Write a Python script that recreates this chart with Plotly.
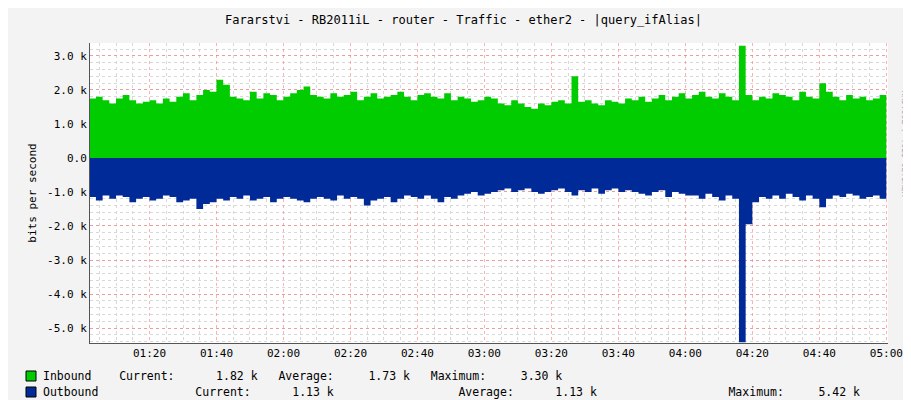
import pandas as pd
import plotly.graph_objects as go

# 2-minute samples from 01:00 to 05:00, values in k bits/s
inbound = [
    1.9, 1.75, 1.8, 1.7, 1.6, 1.75, 1.85, 1.7, 1.6, 1.65, 1.7,
    1.6, 1.75, 1.65, 1.8, 1.9, 1.7, 1.85, 2.0, 1.95, 2.3,
    2.15, 1.8, 1.75, 1.7, 1.95, 1.75, 1.9, 1.85, 1.7, 1.8,
    1.9, 2.0, 2.1, 1.85, 1.8, 1.75, 1.9, 1.8, 1.85, 1.95,
    1.7, 1.8, 1.9, 1.75, 1.8, 1.85, 1.95, 1.8, 1.7, 1.85,
    1.9, 1.8, 1.75, 1.9, 1.7, 1.8, 1.75, 1.65, 1.7, 1.8,
    1.75, 1.6, 1.55, 1.7, 1.6, 1.5, 1.45, 1.6, 1.55, 1.65,
    1.7, 1.6, 2.4, 1.65, 1.7, 1.6, 1.55, 1.7, 1.65, 1.6,
    1.75, 1.7, 1.8, 1.65, 1.75, 1.85, 1.7, 1.8, 1.9, 1.75,
    1.85, 1.95, 1.8, 1.75, 1.9, 1.8, 1.7, 3.3, 1.85, 1.7,
    1.8, 1.75, 1.9, 1.85, 1.8, 1.7, 1.95, 1.8, 1.75, 2.2,
    1.95, 1.8, 1.7, 1.85, 1.75, 1.8, 1.7, 1.75, 1.85, 1.82,
]
outbound = [
    -1.2, -1.15, -1.25, -1.1, -1.2, -1.1, -1.15, -1.3, -1.2, -1.15, -1.25,
    -1.2, -1.1, -1.15, -1.3, -1.25, -1.2, -1.5, -1.35, -1.3, -1.2,
    -1.25, -1.15, -1.2, -1.1, -1.25, -1.2, -1.15, -1.3, -1.2, -1.15,
    -1.2, -1.25, -1.3, -1.2, -1.15, -1.2, -1.25, -1.1, -1.2, -1.15,
    -1.2, -1.4, -1.25, -1.2, -1.15, -1.3, -1.2, -1.1, -1.15, -1.2,
    -1.1, -1.2, -1.3, -1.15, -1.2, -1.1, -1.05, -1.0, -1.1, -1.05,
    -1.0, -0.95, -0.9, -1.0, -0.95, -0.9, -1.0, -1.05, -1.0, -0.95,
    -0.9, -1.0, -1.1, -0.95, -1.0, -0.9, -1.05, -0.95, -0.9, -1.0,
    -0.95, -1.0, -1.05, -1.1, -1.0, -0.95, -1.15, -1.0, -1.05, -1.1,
    -1.1, -1.2, -1.05, -1.15, -1.25, -1.1, -1.2, -5.42, -1.95, -1.3,
    -1.15, -1.2, -1.1, -1.2, -1.05, -1.15, -1.25, -1.1, -1.2, -1.45,
    -1.2, -1.1, -1.15, -1.05, -1.1, -1.2, -1.15, -1.1, -1.2, -1.13,
]
times = pd.date_range("2024-01-01 01:00", periods=len(inbound), freq="2min")

ytick_vals = [3, 2, 1, 0, -1, -2, -3, -4, -5]
ytick_text = ["3.0 k", "2.0 k", "1.0 k", "0.0", "-1.0 k", "-2.0 k", "-3.0 k", "-4.0 k", "-5.0 k"]

FONT = "DejaVu Sans Mono"
GREEN = "#00cc00"
BLUE = "#002a97"

fig = go.Figure()
fig.add_trace(go.Scatter(x=times, y=inbound, fill="tozeroy", mode="lines",
                         line=dict(shape="hv", width=0, color=GREEN),
                         fillcolor=GREEN, name="Inbound"))
fig.add_trace(go.Scatter(x=times, y=outbound, fill="tozeroy", mode="lines",
                         line=dict(shape="hv", width=0, color=BLUE),
                         fillcolor=BLUE, name="Outbound"))

L, R, T, B, W, H = 82, 880, 35, 335, 911, 400


def px(x, y):
    return (x - L) / (R - L), (B - y) / (B - T)


fig.update_layout(
    width=W, height=H, showlegend=False,
    margin=dict(l=L, r=W - R, t=T, b=H - B, autoexpand=False),
    paper_bgcolor="#f3f3f3", plot_bgcolor="white",
    font=dict(family=FONT, size=11, color="#000"),
    title=dict(text="Fararstvi - RB2011iL - router - Traffic - ether2 - |query_ifAlias|",
               x=0.5, y=0.97, yanchor="middle", font=dict(size=12)),
)
fig.update_xaxes(
    range=["2024-01-01 01:02:14", "2024-01-01 05:00:30"], automargin=False,
    dtick=20 * 60 * 1000, tickformat="%H:%M", ticks="",
    showgrid=True, gridcolor="rgba(255,100,100,0.5)", griddash="dot", gridwidth=1,
    minor=dict(dtick=5 * 60 * 1000, showgrid=True, gridcolor="#d8d8d8", griddash="dot"),
    showline=True, linecolor="#555", zeroline=False, tickfont=dict(size=11),
)
fig.update_yaxes(
    range=[-5.44, 3.38], tickvals=ytick_vals, ticktext=ytick_text, ticks="", automargin=False,
    showgrid=True, gridcolor="rgba(255,100,100,0.5)", griddash="dot",
    minor=dict(dtick=0.2, showgrid=True, gridcolor="#d8d8d8", griddash="dot"),
    showline=True, linecolor="#555", zeroline=False,
    title=dict(text="bits per second", font=dict(size=11), standoff=8),
)

# legend rows
rows = [
    (368, GREEN, "Inbound    Current:      1.82 k   Average:     1.73 k   Maximum:     3.30 k"),
    (384, BLUE, "Outbound              Current:      1.13 k                  Average:      1.13 k                   Maximum:     5.42 k"),
]
for y, col, txt in rows:
    x0, y0 = px(18, y - 5)
    x1, y1 = px(28, y + 5)
    fig.add_shape(type="rect", xref="paper", yref="paper", x0=x0, x1=x1, y0=y1, y1=y0,
                  fillcolor=col, line=dict(color="#000", width=1))
    ax, ay = px(33, y)
    fig.add_annotation(text=txt, xref="paper", yref="paper", x=ax, y=ay,
                       xanchor="left", yanchor="middle", showarrow=False,
                       font=dict(size=11.5))

rx, ry = px(903, 80)
fig.add_annotation(text="RRDTOOL / TOBI OETIKER", xref="paper", yref="paper", x=rx, y=ry,
                   textangle=90, showarrow=False, font=dict(size=8, color="#aaa"))

fig.write_html("out.html")
